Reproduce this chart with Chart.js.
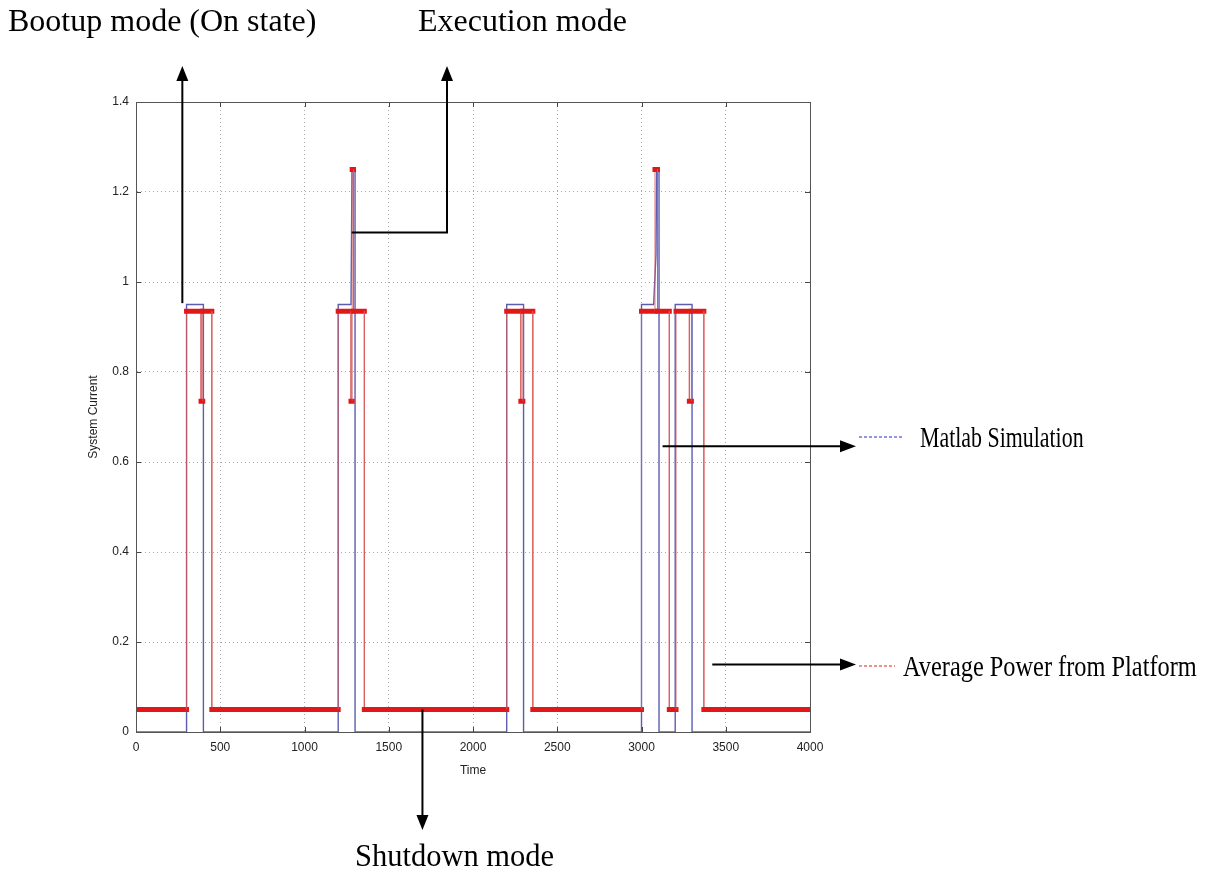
<!DOCTYPE html>
<html>
<head>
<meta charset="utf-8">
<title>System Current</title>
<script src="https://cdn.jsdelivr.net/npm/chart.js@4/dist/chart.umd.min.js"></script>
<style>
    html, body { margin: 0; padding: 0; background: #fff; }
    #chart { display: block; }
</style>
</head>
<body>
<canvas id="chart" width="1209" height="878"></canvas>
<script>
// Matlab simulation (blue) - step points
const simTime = [0, 300, 300, 400, 400,
    1200, 1200, 1276, 1282, 1300, 1300,
    2200, 2200, 2300, 2300,
    3000, 3000, 3072, 3086, 3090, 3104, 3104,
    3200, 3200, 3300, 3300, 4000];
const simCurrent = [0, 0, 0.95, 0.95, 0,
    0, 0.95, 0.95, 1.25, 1.25, 0,
    0, 0.95, 0.95, 0,
    0, 0.95, 0.95, 1.06, 1.25, 1.25, 0,
    0, 0.95, 0.95, 0, 0];

// Average power from platform (red)
const platTime = [0, 300, 300, 386, 386, 396, 396, 450, 450,
    1200, 1200, 1276, 1276, 1283, 1283, 1291, 1291, 1355, 1355,
    2200, 2200, 2284, 2284, 2296, 2296, 2355, 2355,
    3000, 3000, 3080, 3080, 3095, 3095, 3165, 3165,
    3205, 3205, 3284, 3284, 3296, 3296, 3370, 3370, 4000];
const platCurrent = [0.05, 0.05, 0.935, 0.935, 0.735, 0.735, 0.935, 0.935, 0.05,
    0.05, 0.935, 0.935, 0.735, 0.735, 1.25, 1.25, 0.935, 0.935, 0.05,
    0.05, 0.935, 0.935, 0.735, 0.735, 0.935, 0.935, 0.05,
    0.05, 0.935, 0.935, 1.25, 1.25, 0.935, 0.935, 0.05,
    0.05, 0.935, 0.935, 0.735, 0.735, 0.935, 0.935, 0.05, 0.05];

const xTicks = [0, 500, 1000, 1500, 2000, 2500, 3000, 3500, 4000];
const yTicks = [0, 0.2, 0.4, 0.6, 0.8, 1, 1.2, 1.4];

const toPoints = (xs, ys) => xs.map((x, i) => ({ x: x, y: ys[i] }));
const isFlat = ctx => ctx.p0.parsed.y === ctx.p1.parsed.y;
const tickFont = { family: '"Liberation Sans", Arial, sans-serif', size: 12 };

// box, inward ticks, arrows and labels around the plot
const annotations = {
    id: 'annotations',
    afterDraw(chart) {
        const ctx = chart.ctx;
        const area = chart.chartArea;
        const xs = chart.scales.x;
        const ys = chart.scales.y;

        ctx.save();
        // inward ticks
        ctx.strokeStyle = '#444';
        ctx.lineWidth = 1;
        ctx.beginPath();
        xTicks.forEach(v => {
            const px = Math.round(xs.getPixelForValue(v)) + 0.5;
            ctx.moveTo(px, area.bottom); ctx.lineTo(px, area.bottom - 5);
            ctx.moveTo(px, area.top); ctx.lineTo(px, area.top + 5);
        });
        yTicks.forEach(v => {
            const py = Math.round(ys.getPixelForValue(v)) + 0.5;
            ctx.moveTo(area.left, py); ctx.lineTo(area.left + 5, py);
            ctx.moveTo(area.right, py); ctx.lineTo(area.right - 5, py);
        });
        ctx.stroke();
        // box
        ctx.strokeStyle = '#555';
        ctx.strokeRect(area.left + 0.5, area.top + 0.5, area.right - area.left, area.bottom - area.top);

        // arrows
        ctx.strokeStyle = '#000';
        ctx.fillStyle = '#000';
        ctx.lineWidth = 2;
        const path = pts => {
            ctx.beginPath();
            ctx.moveTo(pts[0][0], pts[0][1]);
            pts.slice(1).forEach(p => ctx.lineTo(p[0], p[1]));
            ctx.stroke();
        };
        const head = (x, y, dir) => {
            ctx.beginPath();
            if (dir === 'up') { ctx.moveTo(x, y); ctx.lineTo(x - 6, y + 15); ctx.lineTo(x + 6, y + 15); }
            if (dir === 'down') { ctx.moveTo(x, y); ctx.lineTo(x - 6, y - 15); ctx.lineTo(x + 6, y - 15); }
            if (dir === 'right') { ctx.moveTo(x, y); ctx.lineTo(x - 16, y - 6); ctx.lineTo(x - 16, y + 6); }
            ctx.closePath();
            ctx.fill();
        };
        const P = (t, c) => [xs.getPixelForValue(t), ys.getPixelForValue(c)];

        const boot = P(275, 0.953);
        path([boot, [boot[0], 78]]);
        head(boot[0], 66, 'up');

        const exe = P(1280, 1.11);
        path([exe, [447, exe[1]], [447, 78]]);
        head(447, 66, 'up');

        const shut = P(1700, 0.05);
        path([shut, [shut[0], 818]]);
        head(shut[0], 830, 'down');

        const mat = P(3125, 0.635);
        path([mat, [842, mat[1]]]);
        head(856, mat[1], 'right');

        const avg = P(3420, 0.15);
        path([avg, [842, avg[1]]]);
        head(856, avg[1], 'right');

        // legend-like dashed samples
        ctx.lineWidth = 1.2;
        ctx.setLineDash([3, 2]);
        ctx.strokeStyle = '#2a2ad0';
        path([[859, 437], [903, 437]]);
        ctx.strokeStyle = '#e02020';
        path([[859, 666], [895, 666]]);
        ctx.setLineDash([]);

        // annotation texts
        ctx.fillStyle = '#000';
        ctx.textBaseline = 'alphabetic';
        ctx.font = '32px "Liberation Serif", "Times New Roman", serif';
        ctx.fillText('Bootup mode (On state)', 8, 31);
        ctx.fillText('Execution mode', 418, 31);
        ctx.font = '30.5px "Liberation Serif", "Times New Roman", serif';
        ctx.fillText('Shutdown mode', 355, 866);

        const narrow = (text, x, y, sx) => {
            ctx.save();
            ctx.translate(x, y);
            ctx.scale(sx, 1);
            ctx.font = '29px "Liberation Serif", "Times New Roman", serif';
            ctx.fillText(text, 0, 0);
            ctx.restore();
        };
        narrow('Matlab Simulation', 920, 447, 0.755);
        narrow('Average Power from Platform', 903, 676, 0.84);
        ctx.restore();
    }
};

new Chart(document.getElementById('chart'), {
    type: 'line',
    data: {
        datasets: [{
            label: 'Matlab Simulation',
            data: toPoints(simTime, simCurrent),
            borderColor: '#5d5db0',
            borderWidth: 1.4,
            pointRadius: 0,
            tension: 0,
            order: 2
        }, {
            label: 'Average Power from Platform',
            data: toPoints(platTime, platCurrent),
            borderColor: '#e01818',
            pointRadius: 0,
            tension: 0,
            order: 1,
            segment: {
                borderWidth: ctx => isFlat(ctx) ? 5 : 1,
                borderColor: ctx => isFlat(ctx) ? '#e01818' : 'rgba(215, 90, 90, 0.8)',
                borderCapStyle: ctx => isFlat(ctx) ? 'square' : 'butt'
            }
        }]
    },
    options: {
        responsive: false,
        animation: false,
        events: [],
        layout: {
            padding: { left: 82, top: 102, right: 399, bottom: 96 }
        },
        plugins: {
            legend: { display: false },
            tooltip: { enabled: false }
        },
        scales: {
            x: {
                type: 'linear',
                min: 0,
                max: 4000,
                afterBuildTicks: axis => { axis.ticks = xTicks.map(v => ({ value: v })); },
                afterFit: axis => { axis.height = 50; },
                ticks: {
                    padding: 8,
                    maxRotation: 0,
                    color: '#222',
                    font: tickFont,
                    callback: v => String(v)
                },
                grid: { color: '#a8a8a8', drawTicks: false },
                border: { color: '#555', dash: [1, 3] },
                title: {
                    display: true,
                    text: 'Time',
                    color: '#222',
                    padding: 4,
                    font: tickFont
                }
            },
            y: {
                min: 0,
                max: 1.4,
                afterBuildTicks: axis => { axis.ticks = yTicks.map(v => ({ value: v })); },
                afterFit: axis => { axis.width = 54; },
                ticks: {
                    padding: 7,
                    color: '#222',
                    font: tickFont,
                    callback: v => String(v)
                },
                grid: { color: '#a8a8a8', drawTicks: false },
                border: { color: '#555', dash: [1, 3] },
                title: {
                    display: true,
                    text: 'System Current',
                    color: '#222',
                    padding: 4,
                    font: tickFont
                }
            }
        }
    },
    plugins: [annotations]
});
</script>
</body>
</html>
